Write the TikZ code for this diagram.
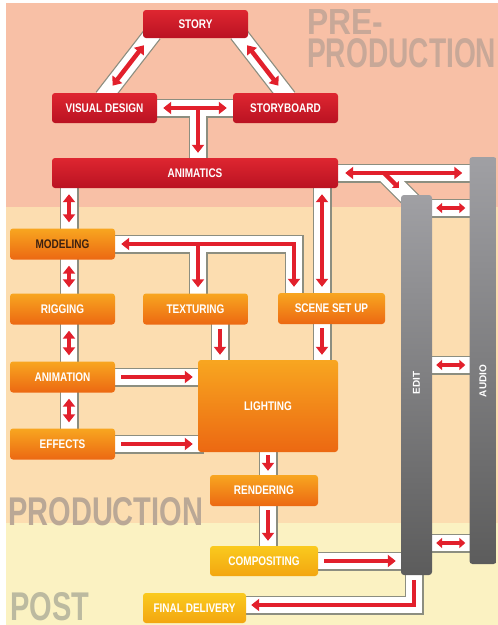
\documentclass[tikz,border=0pt]{standalone}
\usepackage{fontspec}
\usetikzlibrary{arrows.meta,calc}
\newfontfamily\nf[FakeStretch=0.8]{Liberation Sans}
\newfontfamily\bigf{Liberation Sans}
\definecolor{bgpink}{RGB}{248,192,166}
\definecolor{bgpeach}{RGB}{252,221,176}
\definecolor{bgyellow}{RGB}{251,242,194}
\definecolor{redarr}{RGB}{226,32,44}
\definecolor{chgray}{RGB}{140,142,128}
\definecolor{redtop}{RGB}{222,38,48}
\definecolor{redbot}{RGB}{186,18,34}
\definecolor{ortop}{RGB}{248,166,32}
\definecolor{orbot}{RGB}{236,104,18}
\definecolor{yetop}{RGB}{250,202,30}
\definecolor{yebot}{RGB}{243,166,16}
\definecolor{grtop}{RGB}{160,160,164}
\definecolor{grbot}{RGB}{92,92,92}
\definecolor{labpre}{RGB}{200,168,152}
\definecolor{labprod}{RGB}{186,168,150}
\definecolor{labpost}{RGB}{188,186,160}
\definecolor{darktext}{RGB}{60,32,16}
\tikzset{
  box/.style={rounded corners=3pt, inner sep=0pt, text=white,
    font=\nf\bfseries\fontsize{12.5}{13}\selectfont},
  redbox/.style={box, top color=redtop, bottom color=redbot},
  orbox/.style={box, top color=ortop, bottom color=orbot},
  yebox/.style={box, top color=yetop, bottom color=yebot},
  graybar/.style={rounded corners=3pt, top color=grtop, bottom color=grbot,
    inner sep=0pt, text=white, font=\bigf\bfseries\fontsize{10}{11}\selectfont},
  chout/.style={draw=chgray, line width=19pt, shorten <=-6pt, shorten >=-6pt, line join=miter},
  chin/.style={draw=white, line width=16.5pt, shorten <=-6pt, shorten >=-6pt, line join=miter},
  rarr/.style={draw=redarr, line width=4.5pt, line join=miter, -{Triangle[width=12pt,length=8pt]}},
  rdbl/.style={draw=redarr, line width=4.5pt, line join=miter,
    {Triangle[width=12pt,length=8pt]}-{Triangle[width=12pt,length=8pt]}},
  rsml/.style={draw=redarr, line width=4pt,
    {Triangle[width=10pt,length=6pt]}-{Triangle[width=10pt,length=6pt]}, shorten <=4pt, shorten >=4pt},
  biglab/.style={inner sep=0pt, anchor=north west, font=\bigf\bfseries}
}
\newcommand\chanpaths[1]{%
  \draw[#1] ([xshift=2.5pt]vis.north) -- ([xshift=6.5pt]story.south west);
  \draw[#1] ([xshift=-6.5pt]story.south east) -- ([xshift=-1.5pt]board.north);
  \draw[#1] (vis.east) -- (board.west);
  \draw[#1] (vbT) -- (198,0 |- anim.north);
  \draw[#1] (anim.east) -- (audio.west |- anim.east);
  \draw[#1] (brS) -- (418,207);
  \draw[#1] (69,0 |- anim.south) -- (69,0 |- modeling.north);
  \draw[#1] (69,0 |- modeling.south) -- (69,0 |- rigging.north);
  \draw[#1] (69,0 |- rigging.south) -- (69,0 |- animation.north);
  \draw[#1] (69,0 |- animation.south) -- (69,0 |- effects.north);
  \draw[#1] (modeling.east) -- (294,0 |- modeling.east) -- (294,0 |- scene.north);
  \draw[#1] (198,0 |- modeling.east) -- (198,0 |- texturing.north);
  \draw[#1] (322,0 |- anim.south) -- (322,0 |- scene.north);
  \draw[#1] (220,0 |- texturing.south) -- (220,0 |- lighting.north);
  \draw[#1] (322,0 |- scene.south) -- (322,0 |- lighting.north);
  \draw[#1] (animation.east) -- (lighting.west |- animation.east);
  \draw[#1] (effects.east) -- (lighting.west |- effects.east);
  \draw[#1] (268,0 |- lighting.south) -- (268,0 |- rendering.north);
  \draw[#1] (268,0 |- rendering.south) -- (268,0 |- compositing.north);
  \draw[#1] (compositing.east) -- (edit.west |- compositing.east);
  \draw[#1] (414,0 |- edit.south) -- (efC) -- (final.east |- efC);
  \draw[#1] (edit.east |- 0,208) -- (audio.west |- 0,208);
  \draw[#1] (edit.east |- 0,365) -- (audio.west |- 0,365);
  \draw[#1] (edit.east |- 0,543) -- (audio.west |- 0,543);
}
\begin{document}
\begin{tikzpicture}[x=1pt,y=-1pt]
\useasboundingbox (0,0) rectangle (498,625);
\fill[white] (0,0) rectangle (498,625);
\fill[bgpink] (6,3) rectangle (498,207);
\fill[bgpeach] (6,207) rectangle (498,523);
\fill[bgyellow] (6,523) rectangle (498,625);
% big labels
\node[biglab, text=labpre, align=left] (lpre) at (307,9)
  {\resizebox{76pt}{25pt}{PRE-}\\[3pt]\resizebox{189pt}{29pt}{PRODUCTION}};
\node[biglab, text=labprod] (lprod) at (8,497) {\resizebox{195pt}{28pt}{PRODUCTION}};
\node[biglab, text=labpost] (lpost) at (10,592) {\resizebox{79pt}{28pt}{POST}};
% geometry coordinates
\path
  (195.5,24) coordinate (storyC)
  (104.5,108) coordinate (visC)
  (285.5,108) coordinate (boardC)
  (195,173) coordinate (animC);
\coordinate (vbT) at (198,108);
\coordinate (brS) at (387,176);
\coordinate (efC) at (414,605);
% invisible nodes for geometry
\begin{scope}[every node/.style={inner sep=0pt}]
\node[minimum width=105pt, minimum height=28pt] (story) at (storyC) {};
\node[minimum width=105pt, minimum height=30pt] (vis) at (visC) {};
\node[minimum width=105pt, minimum height=30pt] (board) at (boardC) {};
\node[minimum width=286pt, minimum height=30pt] (anim) at (animC) {};
\node[minimum width=105pt, minimum height=31pt] (modeling) at (62.5,244) {};
\node[minimum width=105pt, minimum height=31pt] (rigging) at (62.5,309) {};
\node[minimum width=105pt, minimum height=31pt] (texturing) at (195.5,309) {};
\node[minimum width=107pt, minimum height=31pt] (scene) at (331.5,308.5) {};
\node[minimum width=105pt, minimum height=31pt] (animation) at (62.5,377) {};
\node[minimum width=105pt, minimum height=31pt] (effects) at (62.5,444) {};
\node[minimum width=140pt, minimum height=92pt] (lighting) at (268,406) {};
\node[minimum width=108pt, minimum height=31pt] (rendering) at (264,490.5) {};
\node[minimum width=108pt, minimum height=30pt] (compositing) at (264,561) {};
\node[minimum width=103pt, minimum height=30pt] (final) at (194.5,608) {};
\node[minimum width=31pt, minimum height=380pt] (edit) at (416.5,385) {};
\node[minimum width=27pt, minimum height=407pt] (audio) at (483,360.5) {};
\end{scope}
% channels
\chanpaths{chout}
\chanpaths{chin}
% red arrows
\draw[rdbl, shorten <=9pt, shorten >=9pt] ([xshift=2.5pt]vis.north) -- ([xshift=6.5pt]story.south west);
\draw[rdbl, shorten <=9pt, shorten >=9pt] ([xshift=-6.5pt]story.south east) -- ([xshift=-1.5pt]board.north);
\draw[rdbl, shorten <=6pt, shorten >=6pt] (vis.east) -- (board.west);
\draw[rarr, shorten >=5pt] (vbT) -- (198,0 |- anim.north);
\draw[rdbl, shorten <=7pt, shorten >=7pt] (anim.east) -- (audio.west |- anim.east);
\draw[draw=redarr, line width=4.5pt, -{Triangle[width=9pt,length=5pt]}] (384,173) -- (399,188);
\draw[rdbl, shorten <=6pt, shorten >=6pt] (69,0 |- anim.south) -- (69,0 |- modeling.north);
\draw[rdbl, shorten <=6pt, shorten >=6pt] (69,0 |- modeling.south) -- (69,0 |- rigging.north);
\draw[rdbl, shorten <=6pt, shorten >=6pt] (69,0 |- rigging.south) -- (69,0 |- animation.north);
\draw[rdbl, shorten <=6pt, shorten >=6pt] (69,0 |- animation.south) -- (69,0 |- effects.north);
\draw[rdbl, shorten <=6pt, shorten >=6pt] (modeling.east) -- (294,0 |- modeling.east) -- (294,0 |- scene.north);
\draw[rarr, shorten >=6pt] (198,0 |- modeling.east) -- (198,0 |- texturing.north);
\draw[rdbl, shorten <=6pt, shorten >=6pt] (322,0 |- anim.south) -- (322,0 |- scene.north);
\draw[rarr, shorten <=4pt, shorten >=5pt] (220,0 |- texturing.south) -- (220,0 |- lighting.north);
\draw[rarr, shorten <=4pt, shorten >=5pt] (322,0 |- scene.south) -- (322,0 |- lighting.north);
\draw[rarr, shorten <=6pt, shorten >=5pt] (animation.east) -- (lighting.west |- animation.east);
\draw[rarr, shorten <=6pt, shorten >=5pt] (effects.east) -- (lighting.west |- effects.east);
\draw[rarr, shorten <=3pt, shorten >=4pt] (268,0 |- lighting.south) -- (268,0 |- rendering.north);
\draw[rarr, shorten <=4pt, shorten >=5pt] (268,0 |- rendering.south) -- (268,0 |- compositing.north);
\draw[rarr, shorten <=6pt, shorten >=5pt] (compositing.east) -- (edit.west |- compositing.east);
\draw[rarr, shorten <=5pt, shorten >=5pt] (414,0 |- edit.south) -- (efC) -- (final.east |- efC);
\draw[rsml] (edit.east |- 0,208) -- (audio.west |- 0,208);
\draw[rsml] (edit.east |- 0,365) -- (audio.west |- 0,365);
\draw[rsml] (edit.east |- 0,543) -- (audio.west |- 0,543);
% visible nodes
\node[redbox, minimum width=105pt, minimum height=28pt] at (story) {STORY};
\node[redbox, minimum width=105pt, minimum height=30pt] at (vis) {VISUAL DESIGN};
\node[redbox, minimum width=105pt, minimum height=30pt] at (board) {STORYBOARD};
\node[redbox, minimum width=286pt, minimum height=30pt] at (anim) {ANIMATICS};
\node[orbox, minimum width=105pt, minimum height=31pt, text=darktext] at (modeling) {MODELING};
\node[orbox, minimum width=105pt, minimum height=31pt] at (rigging) {RIGGING};
\node[orbox, minimum width=105pt, minimum height=31pt] at (texturing) {TEXTURING};
\node[orbox, minimum width=107pt, minimum height=31pt] at (scene) {SCENE SET UP};
\node[orbox, minimum width=105pt, minimum height=31pt] at (animation) {ANIMATION};
\node[orbox, minimum width=105pt, minimum height=31pt] at (effects) {EFFECTS};
\node[orbox, minimum width=140pt, minimum height=92pt] at (lighting) {LIGHTING};
\node[orbox, minimum width=108pt, minimum height=31pt] at (rendering) {RENDERING};
\node[yebox, minimum width=108pt, minimum height=30pt] at (compositing) {COMPOSITING};
\node[yebox, minimum width=103pt, minimum height=30pt] at (final) {FINAL DELIVERY};
\node[graybar, minimum width=31pt, minimum height=380pt] at (edit) {};
\node[graybar, minimum width=27pt, minimum height=407pt] at (audio) {};
\node[rotate=90, text=white, font=\bigf\bfseries\fontsize{10}{11}\selectfont] (edittxt) at (416.5,383) {EDIT};
\node[rotate=90, text=white, font=\bigf\bfseries\fontsize{10}{11}\selectfont] (audiotxt) at (483,381) {AUDIO};
\end{tikzpicture}
\end{document}
